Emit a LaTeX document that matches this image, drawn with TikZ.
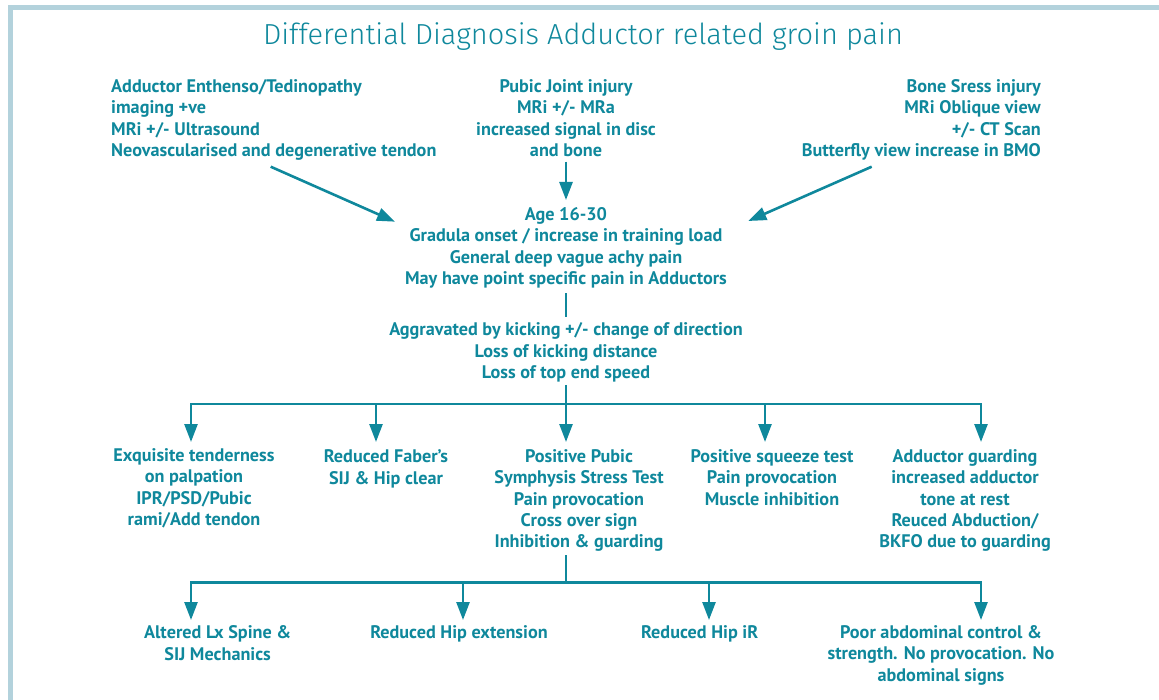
\documentclass[tikz,border=0pt]{standalone}
\usepackage{fontspec}
\setmainfont{PT Sans}
\newfontfamily\titlefont{Fira Sans Light}
\usetikzlibrary{arrows.meta}
\definecolor{dtteal}{HTML}{0F889C}
\definecolor{dtframe}{HTML}{B3D2DC}
\tikzset{
  txt/.style={text=dtteal, font=\bfseries\fontsize{18.2}{21.3}\selectfont, inner sep=0pt, align=center, yshift=-1.5pt},
  ttl/.style={text=dtteal, font=\titlefont\fontsize{29}{34}\selectfont, inner sep=0pt, anchor=base},
  conn/.style={draw=dtteal, line width=2.6pt},
  arr/.style={conn, -{Triangle[length=18pt,width=13pt]}},
}
\begin{document}
\begin{tikzpicture}[x=1pt,y=-1pt]
\useasboundingbox (0,0) rectangle (1159,700);
\fill[dtframe] (8,5) rectangle (13,700);
\fill[dtframe] (8,5) rectangle (1159,10);
\node[ttl] (title) at (583,45) {Differential Diagnosis Adductor related groin pain};

\node[txt, align=left, anchor=west] (A) at (111,118.4) {Adductor Enthenso/Tedinopathy\\imaging +ve\\MRi +/- Ultrasound\\Neovascularised and degenerative tendon};
\node[txt] (B) at (566,116.7) {Pubic Joint injury\\MRi +/- MRa\\increased signal in disc\\and bone};
\node[txt, align=right, anchor=east] (C) at (1041,118.4) {Bone Sress injury\\MRi Oblique view\\+/- CT Scan\\Butterfly view increase in BMO};
\node[txt] (D) at (566,246.3) {Age 16-30\\Gradula onset / increase in training load\\General deep vague achy pain\\May have point specific pain in Adductors};
\node[txt] (E) at (566,351) {Aggravated by kicking +/- change of direction\\Loss of kicking distance\\Loss of top end speed};

\node[txt] (r1) at (194,486.8) {Exquisite tenderness\\on palpation\\IPR/PSD/Pubic\\rami/Add tendon};
\node[txt] (r2) at (386,467.3) {Reduced Faber’s\\SIJ \& Hip clear};
\node[txt] (r3) at (579,499.2) {Positive Pubic\\Symphysis Stress Test\\Pain provocation\\Cross over sign\\Inhibition \& guarding};
\node[txt] (r4) at (772,476.1) {Positive squeeze test\\Pain provocation\\Muscle inhibition};
\node[txt] (r5) at (965,499.2) {Adductor guarding\\increased adductor\\tone at rest\\Reuced Abduction/\\BKFO due to guarding};

\node[txt] (s1) at (217.7,641.5) {Altered Lx Spine \&\\SIJ Mechanics};
\node[txt] (s2) at (459,632.8) {Reduced Hip extension};
\node[txt] (s3) at (699.7,632.8) {Reduced Hip iR};
\node[txt] (s4) at (941,653.9) {Poor abdominal control \&\\strength. No provocation. No\\abdominal signs};

% connector end points
\coordinate (Aout) at (270.7,166.7);
\coordinate (DinA) at (395,221.7);
\coordinate (Cout) at (871.7,166.7);
\coordinate (DinC) at (748.3,221);
\coordinate (Bout) at (566,161.7);
\coordinate (DinB) at (566,200);
\coordinate (Dout) at (566,293.3);
\coordinate (Ein) at (566,316.7);
\coordinate (Eout) at (566,385);
\coordinate (bar1) at (566,404);
\coordinate (r1in) at (191,442);
\coordinate (r2in) at (376,442);
\coordinate (r3in) at (566,442);
\coordinate (r4in) at (765,442);
\coordinate (r5in) at (981,442);
\coordinate (r3out) at (566,555);
\coordinate (bar2) at (566,582.7);
\coordinate (s1in) at (191,620);
\coordinate (s2in) at (463,620);
\coordinate (s3in) at (709,620);
\coordinate (s4in) at (981,620);

\draw[arr] (Aout) -- (DinA);
\draw[arr] (Cout) -- (DinC);
\draw[arr] (Bout) -- (DinB);
\draw[conn] (Dout) -- (Ein);

\draw[conn] (Eout) -- (bar1);
\draw[arr] (bar1) -| (r1in);
\draw[arr] (bar1) -| (r5in);
\draw[arr] (bar1 -| r2in) -- (r2in);
\draw[arr] (bar1) -- (r3in);
\draw[arr] (bar1 -| r4in) -- (r4in);

\draw[conn] (r3out) -- (bar2);
\draw[arr] (bar2) -| (s1in);
\draw[arr] (bar2) -| (s4in);
\draw[arr] (bar2 -| s2in) -- (s2in);
\draw[arr] (bar2 -| s3in) -- (s3in);
\end{tikzpicture}
\end{document}
